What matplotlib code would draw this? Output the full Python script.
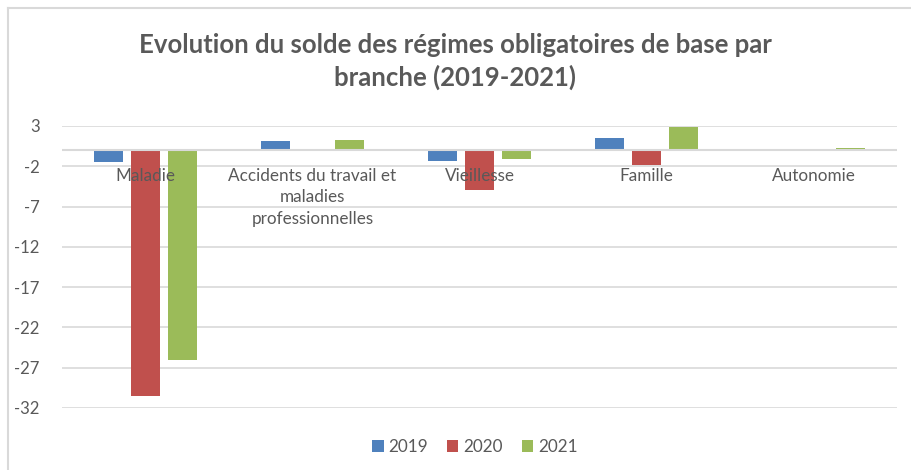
import matplotlib
matplotlib.use("Agg")
import matplotlib.pyplot as plt
from matplotlib.lines import Line2D
from matplotlib.patches import Patch
import numpy as np

categories = ["Maladie", "Accidents du travail et\nmaladies\nprofessionnelles",
              "Vieillesse", "Famille", "Autonomie"]
years = ["2019", "2020", "2021"]
v2019 = [-1.5, 1.1, -1.3, 1.5, 0.0]
v2020 = [-30.5, 0.0, -4.9, -1.8, 0.0]
v2021 = [-26.1, 1.3, -1.1, 2.9, 0.3]
yticks = [3, -2, -7, -12, -17, -22, -27, -32]

colors = ["#4F81BD", "#C0504D", "#9BBB59"]
series = [v2019, v2020, v2021]

plt.rcParams['font.family'] = ['Lato', 'DejaVu Sans']
fig = plt.figure(figsize=(9.11, 4.70), dpi=100)
ax = fig.add_axes([62/911, 1-408/470, (897-62)/911, (408-126)/470])

x = np.arange(len(categories))
bw = 0.174
off = 0.222
for k, (vals, c, lab) in enumerate(zip(series, colors, years)):
    ax.bar(x + (k-1)*off, vals, width=bw, color=c, label=lab, zorder=3)

ax.set_xlim(-0.5, len(categories)-0.5)
ax.set_ylim(-32, 3)
ax.set_yticks(yticks)
ax.set_yticklabels([str(t) for t in yticks], color="#595959", fontsize=12)
ax.tick_params(axis='y', length=0, pad=16)
ax.set_xticks([])
ax.grid(axis='y', color="#d9d9d9", linewidth=1.2, zorder=0)
for s in ax.spines.values():
    s.set_visible(False)
ax.axhline(0, color="#d9d9d9", linewidth=1.5, zorder=4)

for i, cat in enumerate(categories):
    ax.text(i, -2.2, cat, ha='center', va='top', fontsize=12.3, color="#595959",
            linespacing=1.42, zorder=5)

fig.text(0.5, 1-45/470, "Evolution du solde des régimes obligatoires de base par",
         ha='center', va='center', fontsize=18.5, fontweight='bold', color="#595959")
fig.text(0.5, 1-77/470, "branche (2019-2021)",
         ha='center', va='center', fontsize=18.5, fontweight='bold', color="#595959")

handles = [Patch(facecolor=c, edgecolor='none') for c in colors]
fig.legend(handles, years, loc='center', bbox_to_anchor=(475/911, 1-447/470), ncol=3,
           frameon=False, fontsize=12.3, handlelength=0.65, handleheight=0.65,
           handletextpad=0.3, columnspacing=1.1, labelcolor="#595959")

fig.add_artist(Line2D([8/911, 8/911], [0, 1-8/470], transform=fig.transFigure,
                      color="#d9d9d9", linewidth=1.5))
fig.add_artist(Line2D([8/911, 1], [1-8/470, 1-8/470], transform=fig.transFigure,
                      color="#d9d9d9", linewidth=1.5))

fig.savefig("out.png", dpi=100)
